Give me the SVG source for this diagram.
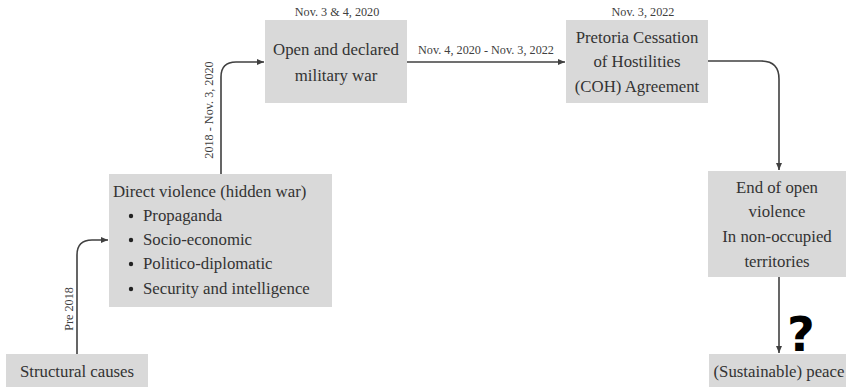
<svg xmlns="http://www.w3.org/2000/svg" width="846" height="387" viewBox="0 0 846 387">
<defs>
<marker id="ah" markerWidth="8" markerHeight="8" refX="7" refY="4" orient="auto" markerUnits="userSpaceOnUse">
<path d="M0,1 L7,4 L0,7 Z" fill="#404040"/>
</marker>
<style>
.box{fill:#d9d9d9}
.t{font-family:'Liberation Serif','Times New Roman',serif;font-size:16.8px;fill:#333333}
.m{text-anchor:middle}
.d{font-family:'Liberation Serif','Times New Roman',serif;font-size:12.2px;fill:#404040}
.c{fill:none;stroke:#404040;stroke-width:1.6}
</style>
</defs>
<rect width="846" height="387" fill="#fff"/>
<g id="connectors">
<path class="c" d="M77,354 V255 Q77,240 92,240 H108" marker-end="url(#ah)"/>
<path class="c" d="M221,174 V77 Q221,62 236,62 H264" marker-end="url(#ah)"/>
<path class="c" d="M407,62 H565" marker-end="url(#ah)"/>
<path class="c" d="M708,61 H761 Q779,61 779,79 V170" marker-end="url(#ah)"/>
<path class="c" d="M779,277 V353" marker-end="url(#ah)"/>
<text class="d m" x="486" y="54">Nov. 4, 2020 - Nov. 3, 2022</text>
<text class="d m" transform="translate(213,110) rotate(-90)">2018 - Nov. 3, 2020</text>
<text class="d m" transform="translate(73,309) rotate(-90)">Pre 2018</text>
<text x="787" y="351" font-family="'DejaVu Sans',sans-serif" font-weight="bold" font-size="48" fill="#000">?</text>
</g>
<g id="structural" class="t">
<rect class="box" x="6" y="354" width="142" height="33"/>
<text class="m" x="77" y="377">Structural causes</text>
</g>
<g id="direct" class="t">
<rect class="box" x="109" y="174" width="223" height="133"/>
<text x="113" y="197">Direct violence (hidden war)</text>
<circle cx="131" cy="216" r="2.2" fill="#222"/><text x="143" y="221">Propaganda</text>
<circle cx="131" cy="240" r="2.2" fill="#222"/><text x="143" y="245">Socio-economic</text>
<circle cx="131" cy="264" r="2.2" fill="#222"/><text x="143" y="269">Politico-diplomatic</text>
<circle cx="131" cy="289" r="2.2" fill="#222"/><text x="143" y="294">Security and intelligence</text>
</g>
<g id="open">
<rect class="box" x="265" y="20" width="142" height="83"/>
<text class="d m" x="337" y="16">Nov. 3 &amp; 4, 2020</text>
<text class="t m" x="336" y="55">Open and declared</text>
<text class="t m" x="336" y="81">military war</text>
</g>
<g id="pretoria">
<rect class="box" x="566" y="20" width="142" height="83"/>
<text class="d m" x="643" y="16">Nov. 3, 2022</text>
<text class="t m" x="637" y="43">Pretoria Cessation</text>
<text class="t m" x="637" y="67">of Hostilities</text>
<text class="t m" x="637" y="92">(COH) Agreement</text>
</g>
<g id="end">
<rect class="box" x="708" y="171" width="138" height="106"/>
<text class="t m" x="777" y="193">End of open</text>
<text class="t m" x="777" y="217">violence</text>
<text class="t m" x="777" y="242">In non-occupied</text>
<text class="t m" x="777" y="267">territories</text>
</g>
<g id="peace">
<rect class="box" x="709" y="354" width="137" height="33"/>
<text class="t m" x="779" y="377">(Sustainable) peace</text>
</g>
</svg>
